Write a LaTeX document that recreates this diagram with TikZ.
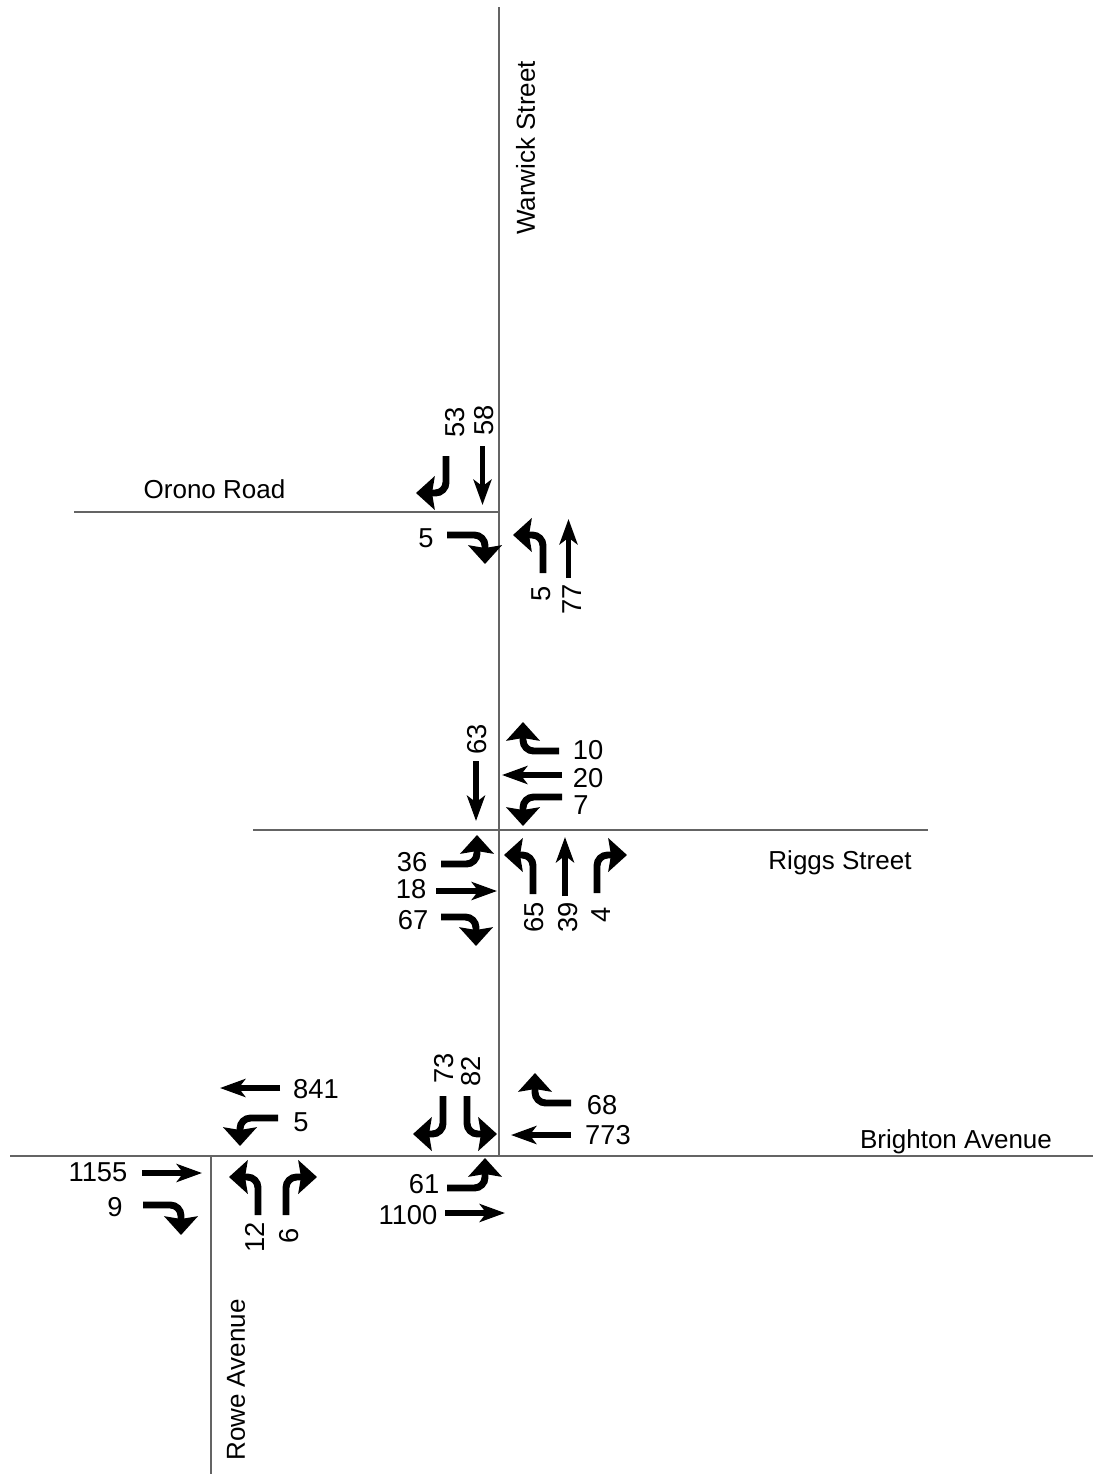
\documentclass[tikz,border=0pt]{standalone}
\usepackage{fontspec}
\setmainfont{Liberation Sans}
\usetikzlibrary{arrows.meta}
\definecolor{roadgray}{RGB}{100,100,100}
\tikzset{
  road/.style={draw=roadgray,line width=0.9pt},
  thru/.style={-{Stealth[length=19pt,width=13.5pt,inset=5pt]},line width=4pt,color=black},
  turn/.style={-{Stealth[length=14pt,width=25pt,inset=2pt]},line width=5.2pt,color=black,
               rounded corners=8pt},
  lbl/.style={font=\fontsize{19.5}{22}\selectfont,inner sep=0pt},
  lblv/.style={lbl,rotate=90},
  num/.style={font=\fontsize{20.5}{22}\selectfont,inner sep=0pt},
  numv/.style={num,rotate=90},
}
\begin{document}
\begin{tikzpicture}[x=0.75pt,y=-0.75pt]
\useasboundingbox (0,0) rectangle (1099,1474);
% road ends
\foreach \nm/\x/\y in {warwickN/499/7,warwickS/499/1156,oronoW/74/512,oronoE/499/512,
  riggsW/253/830,riggsE/928/830,brightonW/10/1156,brightonE/1093/1156,
  roweN/211/1156,roweS/211/1474}
  \coordinate (\nm) at (\x,\y);
\draw[road] (warwickN) -- (warwickS);
\draw[road] (oronoW) -- (oronoE);
\draw[road] (riggsW) -- (riggsE);
\draw[road] (brightonW) -- (brightonE);
\draw[road] (roweN) -- (roweS);
% through movements
\foreach \nm/\xa/\ya/\xb/\yb in {
  oA/482.5/446/482.5/505, oB/568.5/578/568.5/519,
  rA/476/761/476/821, rB/562/775/502/775, rC/436/891/497/891, rD/565/896/565/837,
  bA/280/1088/220/1088, bB/142/1173/202/1173, bC/571/1135/511/1135, bD/445/1213/505/1213}{
  \coordinate (\nm s) at (\xa,\ya);
  \coordinate (\nm e) at (\xb,\yb);
}
\foreach \nm in {oA,oB,rA,rB,rC,rD,bA,bB,bC,bD}
  \draw[thru] (\nm s) -- (\nm e);
% turning movements
\foreach \nm/\xa/\ya/\xb/\yb in {
  tA/446/456/416/493, tB/543/573/513/535, tC/533/894/504/855, tD/597/893/627/855,
  tE/258/1215/229/1177, tF/286/1215/317/1177, tG/443/1096/413/1134, tH/467/1096/497/1134,
  hA/447/535/485/564, hB/559/751/523/722, hC/562/797/523/826, hD/441/864/477/835,
  hE/441/917/476/946, hF/278/1118/240/1146, hG/143/1205/181/1235, hH/571/1103/535/1073,
  hI/447/1188/485/1158}{
  \coordinate (\nm s) at (\xa,\ya);
  \coordinate (\nm e) at (\xb,\yb);
}
\foreach \nm in {tA,tB,tC,tD,tE,tF,tG,tH}
  \draw[turn] (\nm s) |- (\nm e);
\foreach \nm in {hA,hB,hC,hD,hE,hF,hG,hH,hI}
  \draw[turn] (\nm s) -| (\nm e);
% street names
\node[lblv] (warwick) at (525.5,148) {Warwick Street};
\node[lbl] (orono) at (214.5,489) {Orono Road};
\node[lbl] (riggs) at (840,863) {Riggs Street};
\node[lbl] (brighton) at (956,1142) {Brighton Avenue};
\node[lblv] (rowe) at (236,1380) {Rowe Avenue};
% counts
\node[numv] (n53) at (455,422) {53};
\node[numv] (n58) at (484,420) {58};
\node[num] (o5) at (426,538) {5};
\node[numv] (v5) at (541,594) {5};
\node[numv] (n77) at (572,599) {77};
\node[numv] (n63) at (477,739) {63};
\node[num] (n10) at (588,750) {10};
\node[num] (n20) at (588,778) {20};
\node[num] (n7) at (581,805) {7};
\node[num] (n36) at (412,862) {36};
\node[num] (n18) at (411,889) {18};
\node[num] (n67) at (413,920) {67};
\node[numv] (n65) at (534,917) {65};
\node[numv] (n39) at (568,917) {39};
\node[numv] (n4) at (601,915) {4};
\node[num] (n841) at (316,1089) {841};
\node[num] (b5) at (301,1122) {5};
\node[num] (n1155) at (98,1172) {1155};
\node[num] (n9) at (115,1207) {9};
\node[numv] (n12) at (255,1237) {12};
\node[numv] (n6) at (289,1236) {6};
\node[numv] (n73) at (444,1068) {73};
\node[numv] (n82) at (471,1071) {82};
\node[num] (n68) at (602,1105) {68};
\node[num] (n773) at (608,1135) {773};
\node[num] (n61) at (424,1184) {61};
\node[num] (n1100) at (408,1215) {1100};
\end{tikzpicture}
\end{document}
